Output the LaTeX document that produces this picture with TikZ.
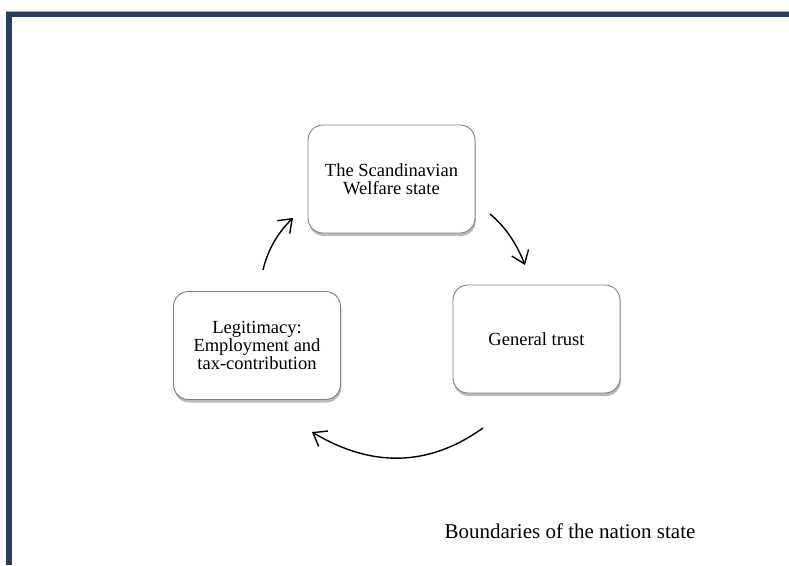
\documentclass[tikz,border=0pt]{standalone}
\usepackage{fontspec}
\setmainfont{Liberation Serif}
\usetikzlibrary{arrows.meta,shadows}
\definecolor{frameblue}{RGB}{38,64,97}
\definecolor{boxgray}{RGB}{125,125,125}
\tikzset{
  cyclebox/.style={draw=boxgray, line width=0.9pt, fill=white, rounded corners=15pt,
    minimum width=167pt, minimum height=108pt, align=center,
    font=\fontsize{18.5}{18}\selectfont,
    drop shadow={shadow xshift=0.8pt, shadow yshift=-3pt, opacity=0.45, fill=black!60}},
  cyclearrow/.style={line width=1.4pt, -{Straight Barb[length=12pt,width=18pt,line width=1.4pt]}},
}
\begin{document}
\begin{tikzpicture}[x=1pt,y=-1pt]
\useasboundingbox (0,0) rectangle (789,565);
% frame
\fill[black!35] (6,10.6) rectangle (789,12);
\fill[frameblue] (6,12) rectangle (789,16.8);
\fill[frameblue] (6,12) rectangle (12,565);
% boxes
\node[cyclebox] (welfare) at (391.5,179) {The Scandinavian\\Welfare state};
\node[cyclebox] (trust) at (536.5,339) {General trust};
\node[cyclebox] (legit) at (257,345.5) {Legitimacy:\\Employment and\\tax-contribution};
% arrow end points
\coordinate (a1s) at (263,270);
\coordinate (a1e) at (293,218);
\coordinate (a2s) at (490,214);
\coordinate (a2e) at (525,265);
\coordinate (a3s) at (483,428);
\coordinate (a3e) at (312,432);
\draw[cyclearrow] (a1s) .. controls (267.7,250) and (277.7,232.7) .. (a1e);
\draw[cyclearrow] (a2s) .. controls (504.7,226) and (516.3,243) .. (a2e);
\draw[cyclearrow] (a3s) .. controls (429,466.7) and (372,468) .. (a3e);
% caption
\node[anchor=base, font=\fontsize{21}{24}\selectfont, inner sep=0pt] (bound) at (570,538) {Boundaries of the nation state};
\end{tikzpicture}
\end{document}
